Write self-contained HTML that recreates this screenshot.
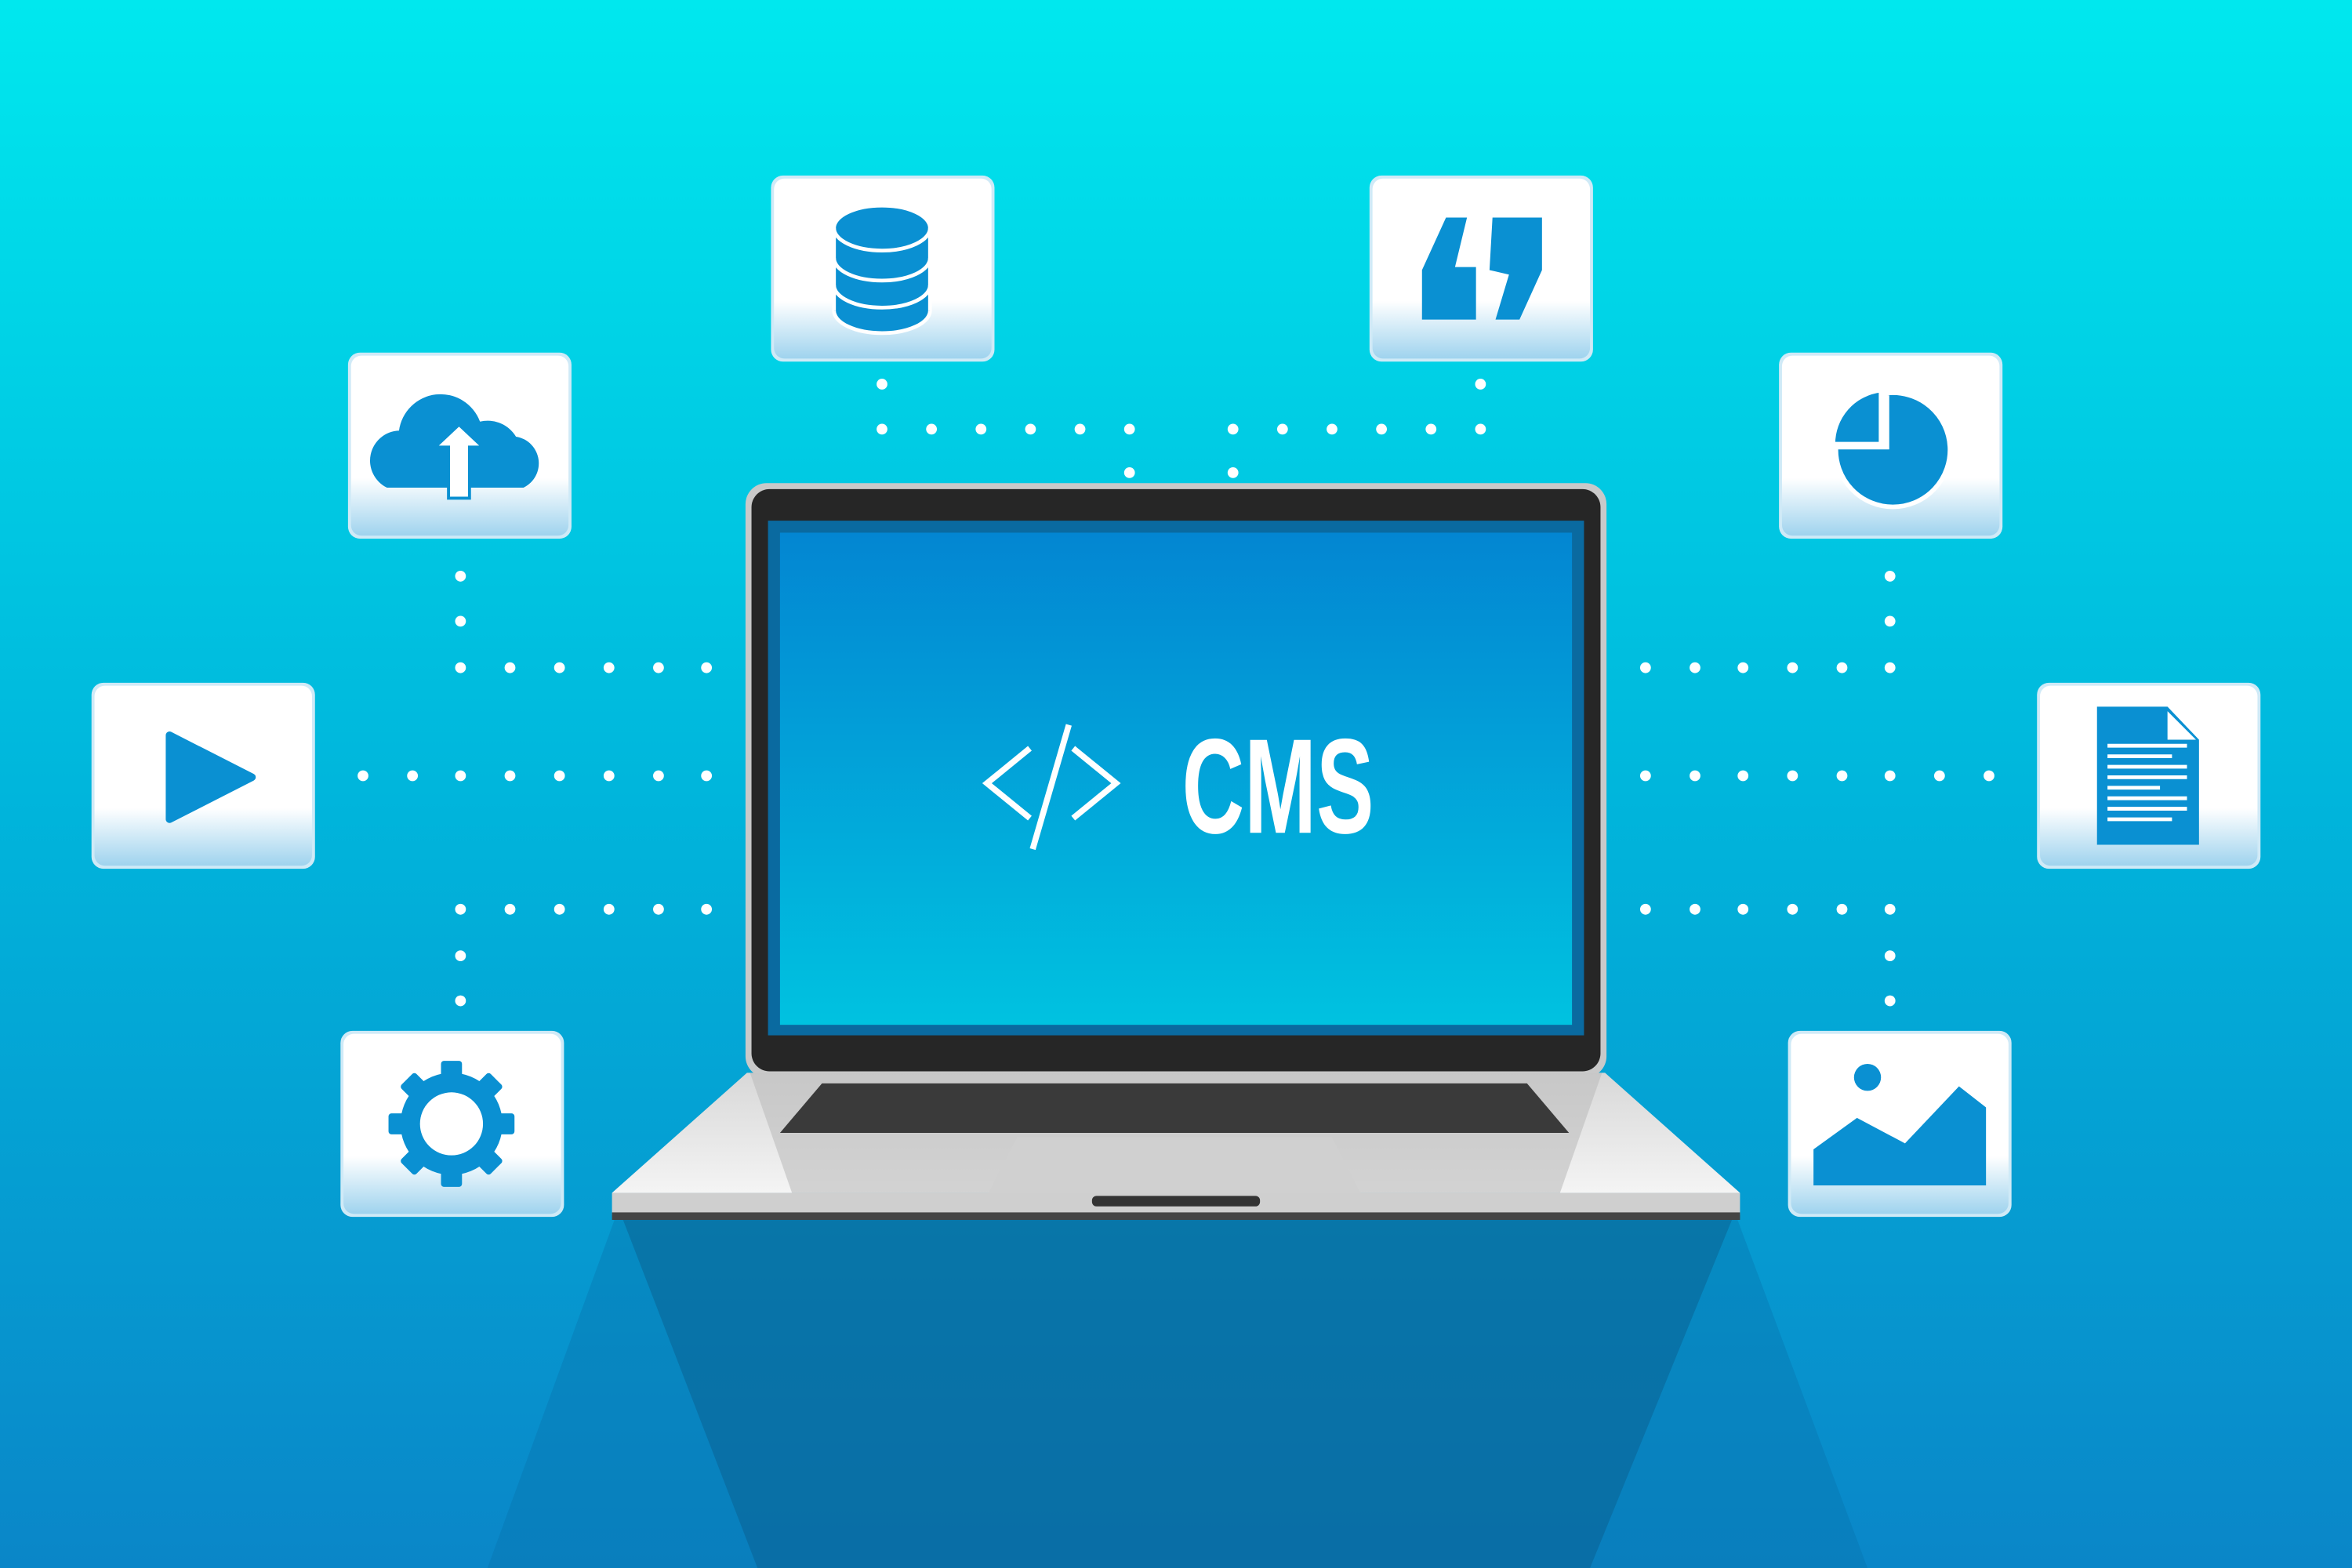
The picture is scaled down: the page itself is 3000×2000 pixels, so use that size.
<!DOCTYPE html>
<html><head><meta charset="utf-8"><style>html,body{margin:0;padding:0;width:3000px;height:2000px;overflow:hidden}svg{display:block}</style></head>
<body>
<svg width="3000" height="2000" viewBox="0 0 1568 1045" preserveAspectRatio="none" xmlns="http://www.w3.org/2000/svg">
<defs>
<linearGradient id="bg" x1="0" y1="0" x2="0" y2="1">
<stop offset="0" stop-color="#00e8ee"/><stop offset="0.5" stop-color="#00b6dc"/><stop offset="1" stop-color="#0a86c8"/></linearGradient>
<linearGradient id="scr" x1="0" y1="0" x2="0" y2="1">
<stop offset="0" stop-color="#0386d2"/><stop offset="1" stop-color="#00c2e0"/></linearGradient>
<linearGradient id="card" x1="0" y1="0" x2="0" y2="1">
<stop offset="0" stop-color="#ffffff"/><stop offset="0.68" stop-color="#ffffff"/><stop offset="1" stop-color="#9fd3ee"/></linearGradient>
<linearGradient id="base" x1="0" y1="0" x2="0" y2="1">
<stop offset="0" stop-color="#d8d8d8"/><stop offset="1" stop-color="#f4f4f4"/></linearGradient>
<g id="c"><rect x="0" y="0" width="149" height="124" rx="8" fill="#cfeaf7"/><rect x="2" y="2" width="145" height="120" rx="7" fill="url(#card)"/></g>
</defs>
<rect width="1568" height="1045" fill="url(#bg)"/>
<polygon points="410,812 1158,812 1245,1045 325,1045" fill="#0a6fa8" opacity="0.35"/>
<polygon points="415,812 1155,812 1060,1045 505,1045" fill="#0a5a8a" opacity="0.45"/>
<rect x="497" y="322" width="574" height="396" rx="14" fill="#c9c9c9"/>
<rect x="501" y="326" width="566" height="388" rx="12" fill="#262626"/>
<rect x="512" y="347" width="544" height="343" fill="#0a6aa0"/>
<rect x="520" y="355" width="528" height="328" fill="url(#scr)"/>
<polygon points="498,715 1070,715 1160,795 408,795" fill="url(#base)"/>
<polygon points="500,715 1068,715 1040,795 528,795" fill="#bdbdbd" opacity="0.6"/>
<polygon points="548,722 1018,722 1046,755 520,755" fill="#3a3a3a"/>
<polygon points="678,758 888,758 908,797 658,797" fill="#d0d0d0"/>
<rect x="408" y="795" width="752" height="15" fill="#cfcfcf"/>
<rect x="408" y="808" width="752" height="5" fill="#444"/>
<rect x="728" y="797" width="112" height="7" rx="3" fill="#333"/>
<g fill="none" stroke="#fff" stroke-width="4" stroke-linecap="square">
<polyline points="685,500 658,522 685,544"/>
<polyline points="717,500 744,522 717,544"/>
<line x1="712" y1="485" x2="689" y2="564"/>
</g>
<text x="788" y="555" font-family="Liberation Sans, sans-serif" font-weight="bold" font-size="90" fill="#fff" transform="translate(788 0) scale(0.64 1) translate(-788 0)">CMS</text>
<use href="#c" x="514" y="117"/><use href="#c" x="913" y="117"/>
<use href="#c" x="232" y="235"/><use href="#c" x="1186" y="235"/>
<use href="#c" x="61" y="455"/><use href="#c" x="1358" y="455"/>
<use href="#c" x="227" y="687"/><use href="#c" x="1192" y="687"/>
<g fill="#0a90d2" stroke="#fff" stroke-width="2.5">
<ellipse cx="588" cy="207" rx="32" ry="15"/><rect x="556" y="190" width="64" height="17" stroke="none"/>
<ellipse cx="588" cy="190" rx="32" ry="15"/><rect x="556" y="172" width="64" height="18" stroke="none"/>
<ellipse cx="588" cy="172" rx="32" ry="15"/><rect x="556" y="152" width="64" height="20" stroke="none"/>
<ellipse cx="588" cy="152" rx="32" ry="15"/>
<line x1="556" y1="152" x2="556" y2="207"/><line x1="620" y1="152" x2="620" y2="207"/>
</g>
<g fill="#0a90d2">
<polygon points="964,145 978,145 970,178 984,178 984,213 948,213 948,180"/>
<polygon points="995,145 1028,145 1028,180 1013,213 997,213 1006,183 993,180"/>
<path d="M258,325 a20,20 0 0 1 8,-38 a28,28 0 0 1 54,-6 a22,22 0 0 1 24,10 a18,18 0 0 1 5,34 z"/>
<path d="M1258,262 v36 h-34 a38,38 0 1 0 34,-36z" stroke="#fff" stroke-width="3"/>
<path d="M1254,260 v36 h-32 a36,36 0 0 1 32,-36z" stroke="#fff" stroke-width="3"/>
<polygon points="113,490 168,518 113,546" stroke="#0a90d2" stroke-width="5" stroke-linejoin="round"/>
<polygon points="1398,471 1445,471 1466,493 1466,563 1398,563"/>
<polygon points="1445,474 1464,493 1445,493" fill="#fff"/>
<circle cx="1245" cy="718" r="9"/>
<polygon points="1209,766 1238,745 1270,762 1306,724 1324,738 1324,790 1209,790"/>
</g>
<path d="M306,283 l-16,15 h9 v34 h14 v-34 h9 z" fill="#fff" stroke="#0a90d2" stroke-width="2"/>
<g stroke="#fff" stroke-width="2.5">
<line x1="1405" y1="497" x2="1458" y2="497"/><line x1="1405" y1="504" x2="1448" y2="504"/>
<line x1="1405" y1="511" x2="1458" y2="511"/><line x1="1405" y1="518" x2="1458" y2="518"/>
<line x1="1405" y1="525" x2="1440" y2="525"/><line x1="1405" y1="532" x2="1458" y2="532"/>
<line x1="1405" y1="539" x2="1458" y2="539"/><line x1="1405" y1="546" x2="1448" y2="546"/>
</g>
<g fill="#0a90d2">
<rect x="294" y="707" width="14" height="84" rx="2"/><rect x="259" y="742" width="84" height="14" rx="2"/>
<rect x="294" y="707" width="14" height="84" rx="2" transform="rotate(45 301 749)"/>
<rect x="294" y="707" width="14" height="84" rx="2" transform="rotate(-45 301 749)"/>
<circle cx="301" cy="749" r="34"/>
</g>
<circle cx="301" cy="749" r="21" fill="#fff"/>
<g fill="#fff">
<circle cx="588" cy="256" r="3.6"/><circle cx="588" cy="286" r="3.6"/><circle cx="621" cy="286" r="3.6"/><circle cx="654" cy="286" r="3.6"/><circle cx="687" cy="286" r="3.6"/><circle cx="720" cy="286" r="3.6"/><circle cx="753" cy="286" r="3.6"/><circle cx="753" cy="315" r="3.6"/>
<circle cx="987" cy="256" r="3.6"/><circle cx="987" cy="286" r="3.6"/><circle cx="954" cy="286" r="3.6"/><circle cx="921" cy="286" r="3.6"/><circle cx="888" cy="286" r="3.6"/><circle cx="855" cy="286" r="3.6"/><circle cx="822" cy="286" r="3.6"/><circle cx="822" cy="315" r="3.6"/>
<circle cx="307" cy="384" r="3.6"/><circle cx="307" cy="414" r="3.6"/><circle cx="307" cy="445" r="3.6"/><circle cx="340" cy="445" r="3.6"/><circle cx="373" cy="445" r="3.6"/><circle cx="406" cy="445" r="3.6"/><circle cx="439" cy="445" r="3.6"/><circle cx="471" cy="445" r="3.6"/>
<circle cx="242" cy="517" r="3.6"/><circle cx="275" cy="517" r="3.6"/><circle cx="307" cy="517" r="3.6"/><circle cx="340" cy="517" r="3.6"/><circle cx="373" cy="517" r="3.6"/><circle cx="406" cy="517" r="3.6"/><circle cx="439" cy="517" r="3.6"/><circle cx="471" cy="517" r="3.6"/>
<circle cx="307" cy="606" r="3.6"/><circle cx="340" cy="606" r="3.6"/><circle cx="373" cy="606" r="3.6"/><circle cx="406" cy="606" r="3.6"/><circle cx="439" cy="606" r="3.6"/><circle cx="471" cy="606" r="3.6"/><circle cx="307" cy="637" r="3.6"/><circle cx="307" cy="667" r="3.6"/>
<circle cx="1260" cy="384" r="3.6"/><circle cx="1260" cy="414" r="3.6"/><circle cx="1260" cy="445" r="3.6"/><circle cx="1228" cy="445" r="3.6"/><circle cx="1195" cy="445" r="3.6"/><circle cx="1162" cy="445" r="3.6"/><circle cx="1130" cy="445" r="3.6"/><circle cx="1097" cy="445" r="3.6"/>
<circle cx="1097" cy="517" r="3.6"/><circle cx="1130" cy="517" r="3.6"/><circle cx="1162" cy="517" r="3.6"/><circle cx="1195" cy="517" r="3.6"/><circle cx="1228" cy="517" r="3.6"/><circle cx="1260" cy="517" r="3.6"/><circle cx="1293" cy="517" r="3.6"/><circle cx="1326" cy="517" r="3.6"/>
<circle cx="1097" cy="606" r="3.6"/><circle cx="1130" cy="606" r="3.6"/><circle cx="1162" cy="606" r="3.6"/><circle cx="1195" cy="606" r="3.6"/><circle cx="1228" cy="606" r="3.6"/><circle cx="1260" cy="606" r="3.6"/><circle cx="1260" cy="637" r="3.6"/><circle cx="1260" cy="667" r="3.6"/>
</g>
</svg>
</body></html>
